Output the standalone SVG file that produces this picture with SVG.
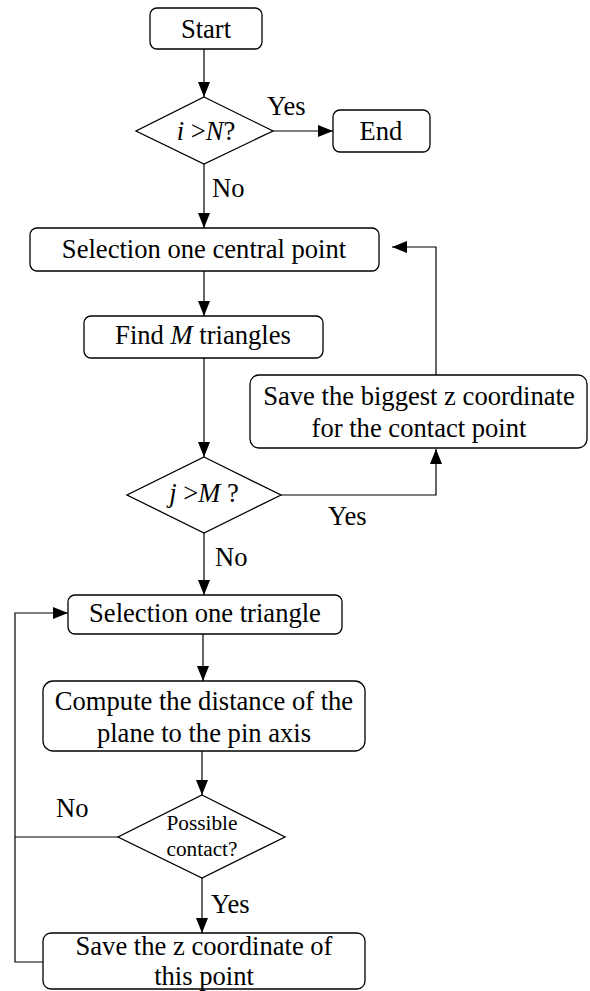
<svg xmlns="http://www.w3.org/2000/svg" width="590" height="991" viewBox="0 0 590 991">
<defs>
<marker id="ah" markerUnits="userSpaceOnUse" markerWidth="16" markerHeight="12" viewBox="0 0 16 12" refX="15" refY="6" orient="auto">
<path d="M0,0 L15,6 L0,12 Z" fill="#000"/>
</marker>
<style>
.box{fill:#fff;stroke:#000;stroke-width:1.3}
.t{font-family:"Liberation Serif","Times New Roman",serif;font-size:26.6px;fill:#000;text-anchor:middle}
.s{font-family:"Liberation Serif","Times New Roman",serif;font-size:21.3px;fill:#000;text-anchor:middle}
.l{font-family:"Liberation Serif","Times New Roman",serif;font-size:26.6px;fill:#000}
.c{fill:none;stroke:#000;stroke-width:1.2}
.i{font-style:italic}
</style>
</defs>
<g id="connectors">
<path class="c" d="M204,49 V97" marker-end="url(#ah)"/>
<path class="c" d="M273,131 H333" marker-end="url(#ah)"/>
<path class="c" d="M204,164 V228" marker-end="url(#ah)"/>
<path class="c" d="M204,271 V316" marker-end="url(#ah)"/>
<path class="c" d="M204,358 V457" marker-end="url(#ah)"/>
<path class="c" d="M281,495 H436 V449" marker-end="url(#ah)"/>
<path class="c" d="M436,375 V247 H392" marker-end="url(#ah)"/>
<path class="c" d="M204,533 V595" marker-end="url(#ah)"/>
<path class="c" d="M203,634 V681" marker-end="url(#ah)"/>
<path class="c" d="M202,751 V795" marker-end="url(#ah)"/>
<path class="c" d="M202,878 V933" marker-end="url(#ah)"/>
<path class="c" d="M118,837 H15"/>
<path class="c" d="M43,962 H15 V613 H68" marker-end="url(#ah)"/>
<text class="l" x="267" y="115">Yes</text>
<text class="l" x="212" y="197">No</text>
<text class="l" x="328" y="525">Yes</text>
<text class="l" x="215" y="566">No</text>
<text class="l" x="56" y="817">No</text>
<text class="l" x="211" y="913">Yes</text>
</g>
<g id="start">
<rect class="box" x="150" y="8" width="112" height="41" rx="7"/>
<text class="t" x="206" y="38">Start</text>
</g>
<g id="cond-i">
<polygon class="box" points="204,97 273,131 204,164 136,131"/>
<text class="t" x="206" y="140"><tspan class="i">i</tspan> &gt;<tspan class="i">N</tspan>?</text>
</g>
<g id="end">
<rect class="box" x="333" y="110" width="97" height="42" rx="7"/>
<text class="t" x="381" y="140">End</text>
</g>
<g id="select-central">
<rect class="box" x="30" y="228" width="349" height="43" rx="7"/>
<text class="t" x="204" y="258">Selection one central point</text>
</g>
<g id="find-m">
<rect class="box" x="84" y="316" width="239" height="42" rx="7"/>
<text class="t" x="203" y="344">Find <tspan class="i">M</tspan> triangles</text>
</g>
<g id="save-biggest">
<rect class="box" x="250" y="375" width="337" height="73" rx="9"/>
<text class="t" x="419" y="405">Save the biggest z coordinate</text>
<text class="t" x="419" y="437">for the contact point</text>
</g>
<g id="cond-j">
<polygon class="box" points="204,457 281,495 204,533 127,495"/>
<text class="t" x="204" y="502"><tspan class="i">j</tspan> &gt;<tspan class="i">M</tspan> ?</text>
</g>
<g id="select-triangle">
<rect class="box" x="68" y="595" width="274" height="39" rx="7"/>
<text class="t" x="205" y="622">Selection one triangle</text>
</g>
<g id="compute">
<rect class="box" x="43" y="681" width="322" height="70" rx="10"/>
<text class="t" x="204" y="710">Compute the distance of the</text>
<text class="t" x="204" y="742">plane to the pin axis</text>
</g>
<g id="cond-contact">
<polygon class="box" points="202,795 285,837 202,878 118,837"/>
<text class="s" x="202" y="830">Possible</text>
<text class="s" x="202" y="856">contact?</text>
</g>
<g id="save-z">
<rect class="box" x="43" y="933" width="322" height="56" rx="8"/>
<text class="t" x="204" y="955">Save the z coordinate of</text>
<text class="t" x="204" y="985">this point</text>
</g>
</svg>
